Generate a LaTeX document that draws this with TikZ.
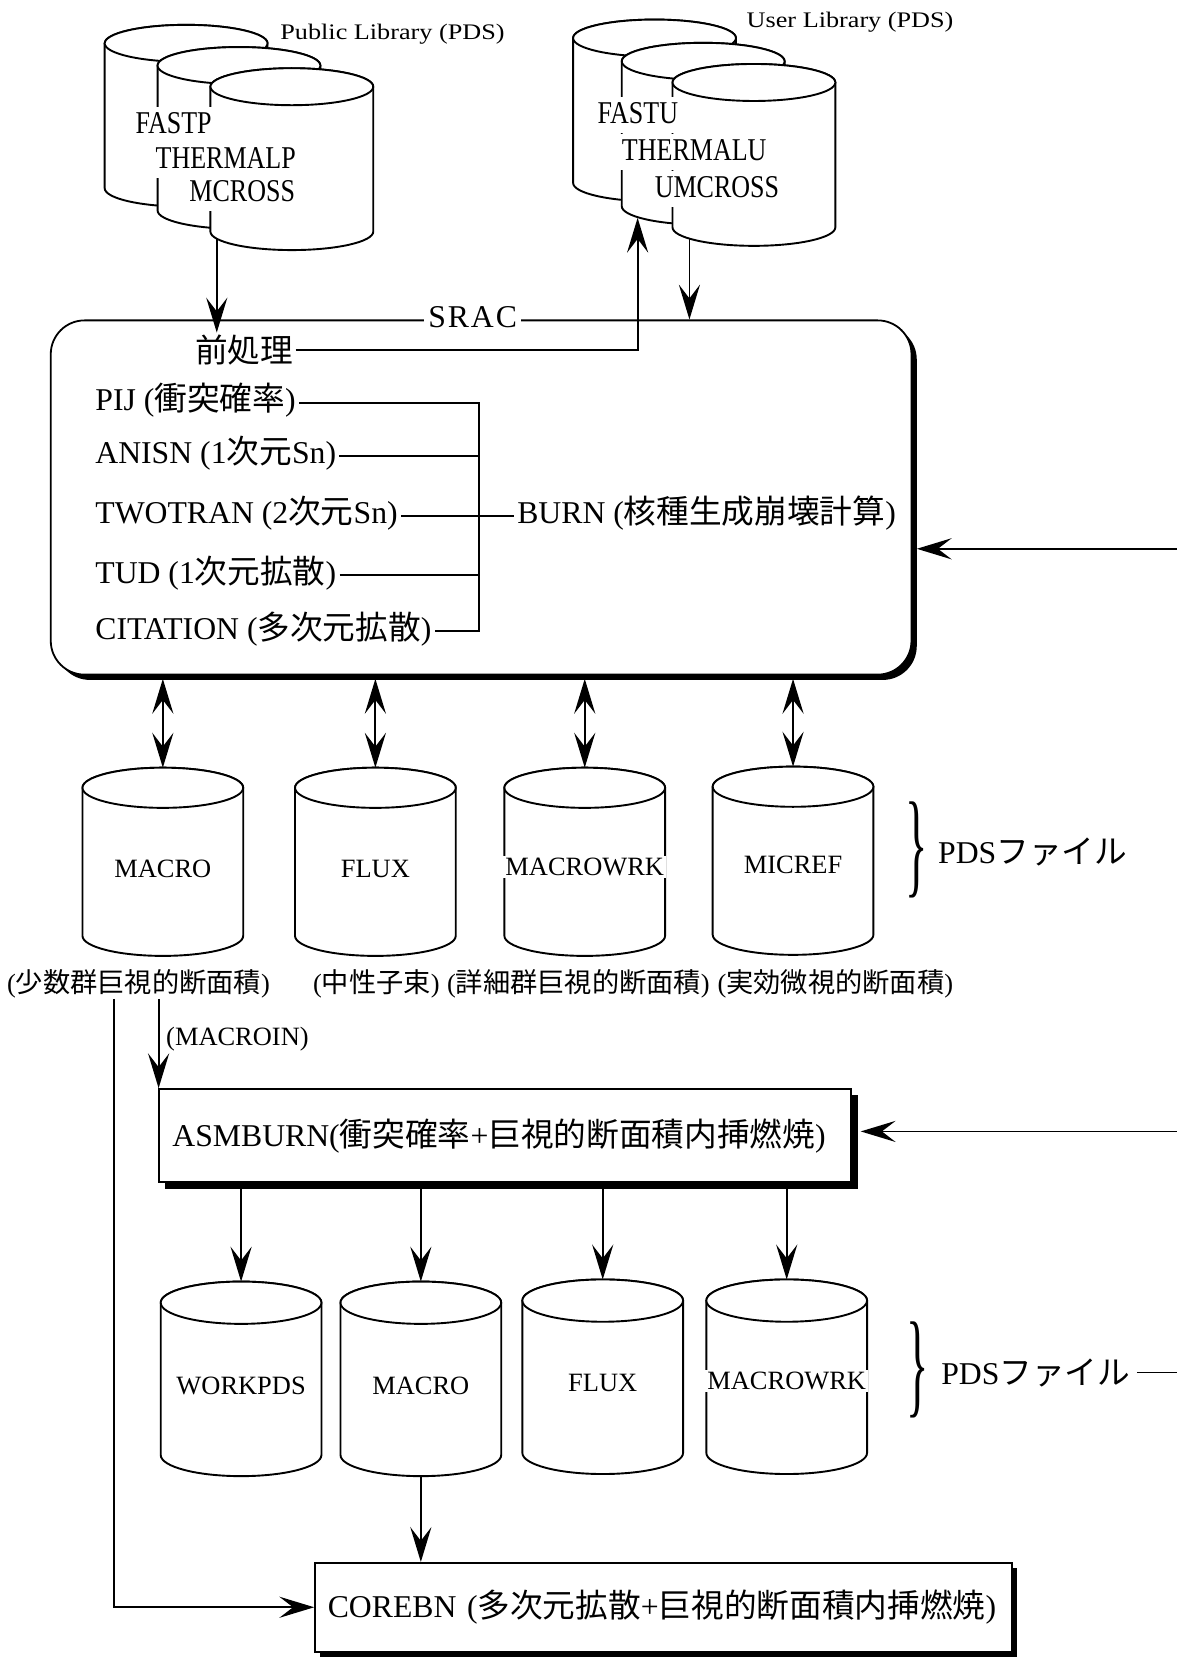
\documentclass[tikz,border=0pt]{standalone}
\usepackage{fontspec}
\usepackage{graphicx}
\setmainfont{Liberation Serif}
\newfontfamily\cjkf{Noto Sans CJK JP}[Scale=1.03]
\newfontfamily\tallserif{Liberation Serif}[FakeStretch=0.82]
\newfontfamily\wideserif{Liberation Serif}[FakeStretch=1.18]
\newfontfamily\spacedserif{Liberation Serif}[LetterSpace=6]
\newcommand{\J}[1]{{\cjkf #1}}
\usetikzlibrary{arrows.meta,shadows}
\newcommand{\drum}[6]{%
  \pgfmathsetmacro{\dL}{#2-#4}%
  \pgfmathsetmacro{\dR}{#2+#4}%
  \pgfmathsetmacro{\dB}{#3+#6}%
  \pgfmathsetmacro{\dBB}{#3+#6+#5}%
  \pgfmathsetmacro{\dTT}{#3-#5}%
  \pgfmathsetmacro{\dkx}{0.5523*#4}%
  \pgfmathsetmacro{\dky}{0.5523*#5}%
  \pgfmathsetmacro{\dMid}{#3+#6/2}%
  \pgfmathsetmacro{\dW}{2*#4}%
  \pgfmathsetmacro{\dHt}{#6+2*#5}%
  \filldraw[cyl] (\dL,#3) -- (\dL,\dB)
    .. controls (\dL,\dB+\dky) and (#2-\dkx,\dBB) .. (#2,\dBB)
    .. controls (#2+\dkx,\dBB) and (\dR,\dB+\dky) .. (\dR,\dB)
    -- (\dR,#3)
    .. controls (\dR,#3-\dky) and (#2+\dkx,\dTT) .. (#2,\dTT)
    .. controls (#2-\dkx,\dTT) and (\dL,#3-\dky) .. cycle;
  \draw[cyl] (#2,#3) ellipse [x radius=#4, y radius=#5];
  \node[cylbox, minimum width=\dW pt, minimum height=\dHt pt] (#1) at (#2,\dMid) {};
}
\begin{document}
\begin{tikzpicture}[x=1pt,y=-1pt,
  conn/.style={line width=1.7pt},
  tip/.tip={Stealth[length=33pt,width=20pt,inset=13pt]},
  arr/.style={conn,-tip},
  darr/.style={conn,tip-tip},
  cyl/.style={draw,fill=white,line width=1.8pt},
  cylbox/.style={inner sep=0pt,outer sep=0pt},
  big/.style={font=\fontsize{30}{36}\selectfont},
  small/.style={font=\fontsize{25}{30}\selectfont},
  libtext/.style={font=\tallserif\fontsize{30}{36}\selectfont,fill=white,anchor=base west,inner xsep=2pt,inner ysep=5pt,text height=20pt,text depth=4pt},
  liblabel/.style={font=\wideserif\fontsize{21}{25}\selectfont,anchor=base west,inner sep=0pt},
  cyltext/.style={small,fill=white,inner xsep=2pt,inner ysep=2pt},
  listtext/.style={big,anchor=west,inner xsep=3pt,text height=22pt,text depth=7pt},
  shbox/.style={draw,fill=white,line width=1.7pt,drop shadow={shadow xshift=#1,shadow yshift=-#1,fill=black,opacity=1}},
  bracetext/.style={big,anchor=west,inner ysep=0pt,inner xsep=6pt},
]
\useasboundingbox (0,0) rectangle (1113,1568);

% ---------- Public library ----------
\drum{pubA}{176}{41}{77}{17.5}{137}
\drum{pubB}{226}{62}{77}{17.5}{137}
\drum{pubC}{276}{82}{77}{17.5}{137}
\node[libtext] (fastp) at (126,126) {FASTP};
\node[libtext] (thermalp) at (145,159) {THERMALP};
\node[libtext] (mcross) at (177,191) {MCROSS};
\node[liblabel] (publab) at (265,37) {Public Library (PDS)};

% ---------- User library ----------
\drum{usrA}{619}{36}{77}{17.5}{137}
\drum{usrB}{665}{58}{77}{17.5}{137}
\drum{usrC}{713}{78}{77}{17.5}{137}
\node[libtext] (fastu) at (563,117) {FASTU};
\node[libtext] (thermalu) at (586,152) {THERMALU};
\node[libtext] (umcross) at (617,187) {UMCROSS};
\node[liblabel] (usrlab) at (706,26) {User Library (PDS)};

% ---------- SRAC box ----------
\node[shbox=5pt, rounded corners=32pt, minimum width=814pt, minimum height=335pt, inner sep=0pt] (srac) at (455,470.5) {};
\node[font=\spacedserif\fontsize{30}{36}\selectfont, fill=white, inner xsep=4pt, inner ysep=1pt] (sraclab) at (447,300) {SRAC};
\node[font=\fontsize{30}{36}\selectfont, inner sep=2pt] (pre) at (231,331) {\J{前処理}};

\node[listtext] (pij) at (87,381) {PIJ (\J{衝突確率})};
\node[listtext] (anisn) at (87,431) {ANISN (1\J{次元}Sn)};
\node[listtext] (twotran) at (87,488) {TWOTRAN (2\J{次元}Sn)};
\node[listtext] (tud) at (87,544) {TUD (1\J{次元拡散})};
\node[listtext] (cit) at (87,597) {CITATION (\J{多次元拡散})};
\node[listtext] (burn) at (486,488) {BURN (\J{核種生成崩壊計算})};
\coordinate (bus) at (453,0);
\draw[conn] (pij.east) -- (pij.east -| bus) -- (cit.east -| bus) -- (cit.east);
\draw[conn] (anisn.east) -- (anisn.east -| bus);
\draw[conn] (tud.east) -- (tud.east -| bus);
\draw[conn] (twotran.east) -- (burn.west);

% ---------- top connectors ----------
\coordinate (pubout) at (205,226);
\draw[arr] (pubout) -- (pubout |- pre.north);
\coordinate (usrin) at (603,206);
\draw[arr] (pre.east) -| (usrin);
\coordinate (usrout) at (652,226);
\draw[arr] (usrout) -- (usrout |- srac.north);
\coordinate (feedA) at (1113,519);
\coordinate (sracR) at (867,0);
\draw[arr] (feedA) -- (feedA -| sracR);

% ---------- middle PDS files ----------
\drum{mA}{154}{745}{76}{19}{140}
\drum{mB}{355}{745}{76}{19}{140}
\drum{mC}{553}{745}{76}{19}{140}
\drum{mD}{750}{744}{76}{19}{140}
\node[cyltext] (mAt) at (154,822) {MACRO};
\node[cyltext] (mBt) at (355,822) {FLUX};
\node[cyltext] (mCt) at (553,820) {MACROWRK};
\node[cyltext] (mDt) at (750,818) {MICREF};
\coordinate (boxbot) at (0,642);
\foreach \n in {mA,mB,mC,mD} \draw[darr] (\n.north |- boxbot) -- (\n.north);
\node[inner sep=0pt] (brA) at (867,804) {\scalebox{1.1}[2.75]{\fontsize{40}{40}\selectfont\}}};
\node[bracetext] (pdsA) at (881,806) {PDS\J{ファイル}};

\node[small, inner sep=1pt] (labA) at (131,930) {(\J{少数群巨視的断面積})};
\node[small, inner sep=1pt] (labB) at (356,930) {(\J{中性子束})};
\node[small, inner sep=1pt] (labC) at (547,930) {(\J{詳細群巨視的断面積})};
\node[small, inner sep=1pt] (labD) at (790,930) {(\J{実効微視的断面積})};
\node[small, anchor=west, inner sep=1pt] (macroin) at (156,983) {(MACROIN)};
\coordinate (tapA) at ([xshift=-23pt]labA.south);
\coordinate (tapB) at ([xshift=19pt]labA.south);

% ---------- ASMBURN ----------
\node[shbox=6pt, big, minimum width=655pt, minimum height=88pt, inner xsep=13pt, text width=629pt, align=left] (asm) at (477.5,1074) {ASMBURN(\J{衝突確率}+\J{巨視的断面積内挿燃焼})};
\draw[arr] (tapB) -- (tapB |- asm.north);
\coordinate (feedB) at (1113,1070);
\coordinate (asmR) at (814,0);
\draw[arr] (feedB) -- (feedB -| asmR);

% ---------- lower PDS files ----------
\drum{wA}{228}{1232}{76}{20}{144}
\drum{wB}{398}{1232}{76}{20}{144}
\drum{wC}{570}{1230}{76}{20}{144}
\drum{wD}{744}{1230}{76}{20}{144}
\node[cyltext] (wAt) at (228,1311) {WORKPDS};
\node[cyltext] (wBt) at (398,1311) {MACRO};
\node[cyltext] (wCt) at (570,1308) {FLUX};
\node[cyltext] (wDt) at (744,1306) {MACROWRK};
\coordinate (asmbot) at (0,1124);
\foreach \n in {wA,wB,wC,wD} \draw[arr] (\n.north |- asmbot) -- (\n.north);
\node[inner sep=0pt] (brB) at (868,1296) {\scalebox{1.1}[2.75]{\fontsize{40}{40}\selectfont\}}};
\node[bracetext] (pdsB) at (884,1298) {PDS\J{ファイル}};
\coordinate (edgeR) at (1113,0);
\draw[conn] (pdsB.east) -- (pdsB.east -| edgeR);

% ---------- COREBN ----------
\node[shbox=5pt, big, minimum width=659pt, minimum height=84pt, inner xsep=12pt, text width=635pt, align=left] (core) at (627.5,1520) {COREBN~(\J{多次元拡散}+\J{巨視的断面積内挿燃焼})};
\draw[arr] (wB.south) -- (wB.south |- core.north);
\draw[arr] (tapA) |- (core.west);
\end{tikzpicture}
\end{document}
